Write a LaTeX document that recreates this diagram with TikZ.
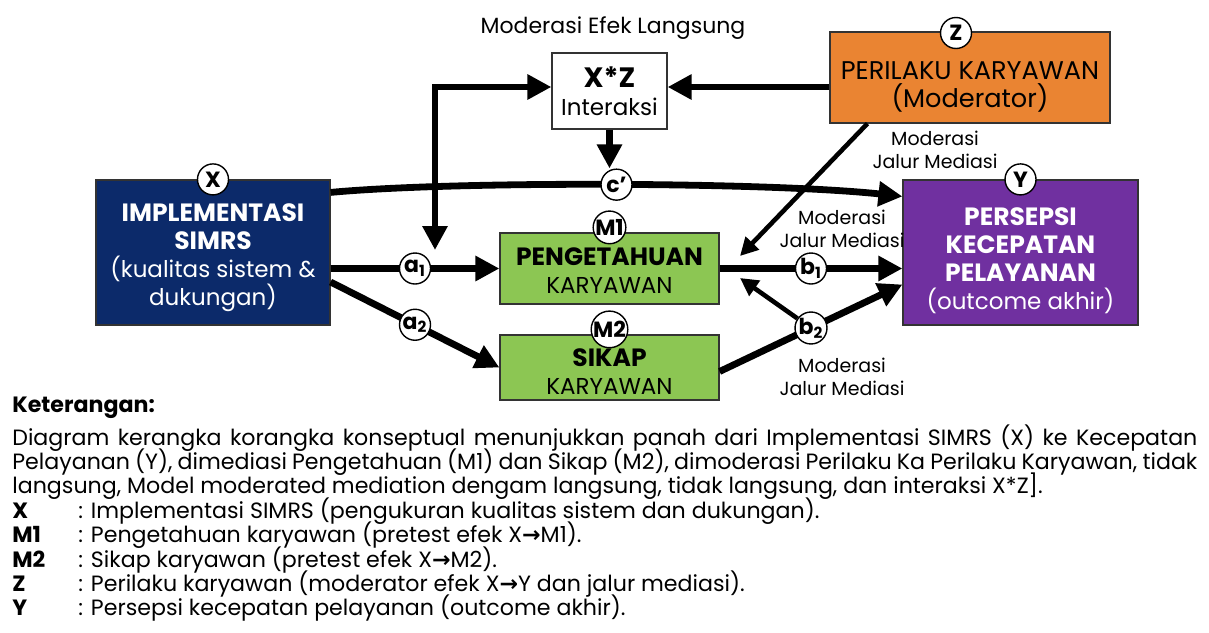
\documentclass[tikz,border=0pt]{standalone}
\usepackage{fontspec}
\setmainfont{Poppins}
\newfontfamily\arrowfont{DejaVu Sans}
\usetikzlibrary{positioning,arrows.meta,calc}
\definecolor{navy}{HTML}{0C2A6A}
\definecolor{jingga}{HTML}{EA8432}
\definecolor{ungu}{HTML}{7030A0}
\definecolor{hijau}{HTML}{8CC653}
\definecolor{rim}{HTML}{333333}
\newcommand{\ra}{{\arrowfont\bfseries →}}
\newcommand{\sub}[1]{\textsubscript{#1}}
\newcommand{\rapat}{\lineskiplimit -20pt\relax}
\newcommand{\geser}[1]{\rule{0pt}{#1}}
\newcommand{\judulbox}[1]{{\bfseries\fontsize{12.5}{14}\selectfont #1}}
\newlength{\ukur}
\newcommand{\legsize}{10}
\AtBeginDocument{%
  \settowidth{\ukur}{\fontsize{10}{12}\selectfont langsung, Model moderated mediation dengam langsung, tidak langsung, dan interaksi X*Z].}%
  \ifdim\ukur>10pt \xdef\legsize{\fpeval{round(10*515/(\the\ukur),2)}}\fi}

\begin{document}
\begin{tikzpicture}[x=0.5pt,y=-0.5pt,
  blok/.style={draw=rim,line width=0.6pt,align=center,inner sep=0pt,font=\fontsize{11.5}{14}\selectfont\rapat},
  tag/.style={circle,draw,fill=white,line width=0.7pt,minimum size=15.5pt,inner sep=0pt,font=\bfseries\fontsize{11}{11}\selectfont},
  flow/.style={line width=3.4pt},
  tip/.style={-{Triangle[length=12pt,width=12pt]}},
  modr/.style={line width=2.3pt,-{Triangle[length=9pt,width=9pt]}},
  note/.style={align=center,font=\fontsize{9.5}{11.5}\selectfont\rapat}]
\useasboundingbox (0,0) rectangle (1209,632);

\node[blok,fill=navy,text=white,minimum width=117pt,minimum height=72.5pt] (X) at (213,252.5)
  {\geser{13.7pt}\judulbox{IMPLEMENTASI}\\\judulbox{SIMRS}\\(kualitas sistem \&\\dukungan)};
\node[blok,fill=white,minimum width=57.5pt,minimum height=38pt] (XZ) at (609.5,91)
  {{\bfseries\fontsize{14}{16}\selectfont X*Z}\\Interaksi};
\node[blok,fill=jingga,minimum width=140pt,minimum height=45.5pt,font=\fontsize{12.8}{14}\selectfont\rapat] (Z) at (970,77.5)
  {\geser{18pt}PERILAKU KARYAWAN\\(Moderator)};
\node[blok,fill=hijau,minimum width=109.5pt,minimum height=35.5pt] (M1) at (609.5,268.5)
  {\geser{10.7pt}\judulbox{PENGETAHUAN}\\KARYAWAN};
\node[blok,fill=hijau,minimum width=109.5pt,minimum height=32.5pt] (M2) at (609.5,367.5)
  {\geser{12.7pt}\judulbox{SIKAP}\\KARYAWAN};
\node[blok,fill=ungu,text=white,minimum width=117.5pt,minimum height=72.5pt] (Y) at (1020.5,252.5)
  {\geser{16.7pt}\judulbox{PERSEPSI}\\\judulbox{KECEPATAN}\\\judulbox{PELAYANAN}\\(outcome akhir)};

\node[font=\fontsize{11}{13}\selectfont] (judul) at (613,28) {Moderasi Efek Langsung};

\node[tag] (xtag) at (X.north) {X};
\node[tag] (ztag) at (956,33) {Z};
\node[tag] (ytag) at (Y.north) {Y};
\node[tag] (m1tag) at ([yshift=2.5pt]M1.north) {M1};
\node[tag] (m2tag) at ([yshift=2.5pt]M2.north) {M2};

\coordinate (turun) at (435,250);
\coordinate (m1in) at (740,256);
\coordinate (m1out) at (740,278);

\draw[flow,tip] ([yshift=-6.5pt]X.north east) .. controls +(130,-12) and +(-130,-14) .. node[tag] (cp) {c’} ([yshift=-8.5pt]Y.north west);
\draw[flow,tip] (XZ.south) -- (XZ.south |- cp.north);
\draw[flow,tip] (Z.west |- 0,87) -- (XZ.east |- 0,87);
\draw[flow,{Triangle[length=12pt,width=12pt]}-{Triangle[length=12pt,width=12pt]}] (turun) |- (XZ.west |- 0,87);
\draw[flow,tip] (X.east |- M1) -- node[tag] (a1) {a\sub{1}} (M1.west);
\draw[flow,tip] ([yshift=-14.75pt]X.east) -- node[tag] (a2) {a\sub{2}} (M2.west);
\draw[flow,tip] (M1.east) -- node[tag] (b1) {b\sub{1}} (Y.west |- M1);
\draw[flow,tip] ([yshift=-2pt]M2.east) -- node[tag] (b2) {b\sub{2}} ([yshift=-16pt]Y.west);
\draw[modr] ([xshift=19pt]Z.south west) -- (m1in);
\draw[modr] (b2) -- (m1out);

\node[note] (mod1) at (935,150) {Moderasi\\Jalur Mediasi};
\node[note] (mod2) at (842,229) {Moderasi\\Jalur Mediasi};
\node[note] (mod3) at (842,377) {Moderasi\\Jalur Mediasi};

\node[anchor=west,inner sep=0pt,font=\bfseries\fontsize{\legsize}{12}\selectfont] (ket) at (12,408) {Keterangan:};
\node[anchor=north west,inner sep=0pt,align=left,font=\fontsize{\legsize}{12.2}\selectfont\rapat] (legend) at (12,424)
  {\makebox[592.5pt][s]{Diagram kerangka korangka konseptual menunjukkan panah dari Implementasi SIMRS (X) ke Kecepatan}\\
   \makebox[592.5pt][s]{Pelayanan (Y), dimediasi Pengetahuan (M1) dan Sikap (M2), dimoderasi Perilaku Ka Perilaku Karyawan, tidak}\\
   langsung, Model moderated mediation dengam langsung, tidak langsung, dan interaksi X*Z].\\
   \makebox[33pt][l]{\textbf{X}}: Implementasi SIMRS (pengukuran kualitas sistem dan dukungan).\\
   \makebox[33pt][l]{\textbf{M1}}: Pengetahuan karyawan (pretest efek X\ra M1).\\
   \makebox[33pt][l]{\textbf{M2}}: Sikap karyawan (pretest efek X\ra M2).\\
   \makebox[33pt][l]{\textbf{Z}}: Perilaku karyawan (moderator efek X\ra Y dan jalur mediasi).\\
   \makebox[33pt][l]{\textbf{Y}}: Persepsi kecepatan pelayanan (outcome akhir).};
\end{tikzpicture}
\end{document}
